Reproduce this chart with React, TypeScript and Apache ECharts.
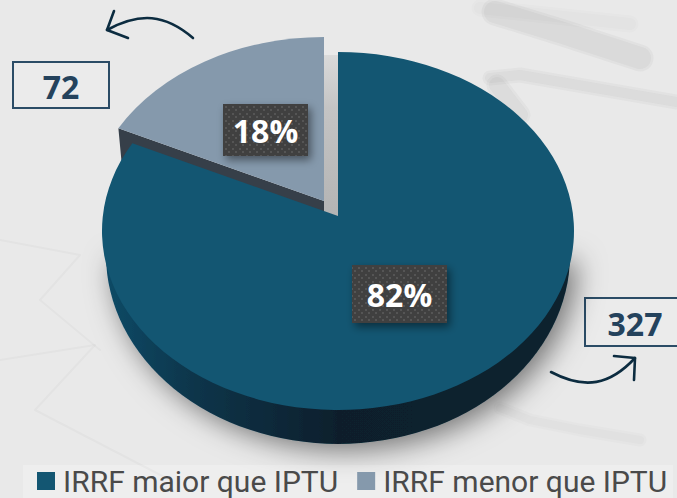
import React, { useEffect, useRef } from "react";
import * as echarts from "echarts";

const categories = ["IRRF maior que IPTU", "IRRF menor que IPTU"];
const counts = [327, 72];
const percentLabels = ["82%", "18%"];
const countLabels = ["327", "72"];

const FONT = "'Open Sans', sans-serif";
const W = 677;
const H = 498;
const apex = { x: 338, y: 216 };
const ell = { cx: 338, cy: 231, rx: 236, ry: 179 };
const low = { cy: 255, rx: 232, ry: 189 };
const explode = { x: -14, y: -15 };

// ellipse point hit by a ray from the apex at a flat-space angle (clockwise from top)
function rim(theta: number) {
  const ax = (apex.x - ell.cx) / ell.rx;
  const ay = (apex.y - ell.cy) / ell.ry;
  const dx = Math.sin(theta);
  const dy = -Math.cos(theta);
  const b = ax * dx + ay * dy;
  const c = ax * ax + ay * ay - 1;
  const t = -b + Math.sqrt(b * b - c);
  return { x: ell.cx + (ax + t * dx) * ell.rx, y: ell.cy + (ay + t * dy) * ell.ry };
}

// keeps page coordinates: the two leading moves make the path's box the whole page
function pagePath(d: string, style: any) {
  return {
    type: "path",
    shape: { pathData: `M0 0 M${W} ${H} ${d}`, layout: "cover", x: 0, y: 0, width: W, height: H },
    style,
  };
}

function dotPattern() {
  const c = document.createElement("canvas");
  c.width = 7;
  c.height = 7;
  const g = c.getContext("2d")!;
  g.fillStyle = "#3f3f3f";
  g.fillRect(0, 0, 7, 7);
  g.fillStyle = "#555555";
  g.fillRect(1, 1, 2, 2);
  g.fillRect(4, 4, 2, 2);
  return { image: c, repeat: "repeat" };
}

function labelBox(x: number, y: number, w: number, h: number, text: string, pattern: any) {
  return [
    {
      type: "rect",
      shape: { x, y, width: w, height: h },
      style: { fill: pattern, shadowBlur: 8, shadowColor: "rgba(0,0,0,0.45)", shadowOffsetX: 3, shadowOffsetY: 4 },
    },
    {
      type: "text",
      x: x + w / 2,
      y: y + h / 2,
      style: { text, fill: "#fff", font: `700 32px ${FONT}`, align: "center", verticalAlign: "middle" },
    },
  ];
}

export default function App() {
  const ref = useRef<HTMLDivElement>(null);
  useEffect(() => {
    const chart = echarts.init(ref.current!, undefined, { renderer: "svg" });
    const total = counts[0] + counts[1];
    const split = (counts[1] / total) * Math.PI * 2;
    const pattern = dotPattern();
    const edge = rim(-split);

    const mainItem = () => {
      const wallPath = `M${ell.cx - low.rx} ${low.cy} A${low.rx} ${low.ry} 0 0 0 ${ell.cx + low.rx} ${low.cy} Z`;
      const topPath = `M${apex.x} ${apex.y} L${edge.x} ${edge.y} A${ell.rx} ${ell.ry} 0 1 0 ${apex.x} ${ell.cy - ell.ry} Z`;
      return {
        type: "group",
        children: [
          pagePath(wallPath, {
            fill: new echarts.graphic.LinearGradient(106, 0, 570, 0, [
              { offset: 0, color: "#114a66" },
              { offset: 0.2, color: "#0b3449" },
              { offset: 0.5, color: "#071f2c" },
              { offset: 1, color: "#08222f" },
            ], true),
            shadowBlur: 28,
            shadowColor: "rgba(0,0,0,0.5)",
            shadowOffsetX: 7,
            shadowOffsetY: 6,
          }),
          pagePath(topPath, { fill: "#135672" }),
          ...labelBox(352, 265, 95, 58, percentLabels[0], pattern),
        ],
      };
    };

    const minorItem = () => {
      const ox = apex.x + explode.x;
      const oy = apex.y + explode.y;
      const tx = edge.x + explode.x;
      const ty = edge.y + explode.y;
      const topPath = `M${ox} ${oy} L${ox} ${ell.cy - ell.ry + explode.y} A${ell.rx} ${ell.ry} 0 0 0 ${tx} ${ty} Z`;
      const cutPath = `M${tx} ${ty} L${ox} ${oy} L${ox} ${oy + 12} L${tx + 3} ${ty + 32} Z`;
      const backPath = `M${ox} 55 L${apex.x} 55 L${apex.x} ${apex.y + 2} L${ox} ${oy + 12} Z`;
      return {
        type: "group",
        children: [
          pagePath(backPath, {
            fill: new echarts.graphic.LinearGradient(0, 50, 0, 216, [
              { offset: 0, color: "#dcdcdc" },
              { offset: 0.35, color: "#c4c4c4" },
              { offset: 1, color: "#b4b4b4" },
            ], true),
          }),
          pagePath(cutPath, { fill: "#363f49" }),
          pagePath(topPath, { fill: "#8599ac" }),
        ],
      };
    };

    const minorLabel = () => ({
      type: "group",
      children: labelBox(223, 104, 85, 52, percentLabels[1], pattern),
    });

    const faintLine = (points: number[][], opacity = 0.03, width = 2) => ({
      type: "polyline",
      silent: true,
      z: -9,
      shape: { points },
      style: {
        fill: "none",
        stroke: `rgba(70,70,70,${opacity})`,
        lineWidth: width,
        lineCap: "round",
        lineJoin: "round",
      },
    });
    // two stacked widths give a soft, out-of-focus edge
    const softLine = (points: number[][], opacity: number, width: number) => [
      faintLine(points, opacity / 2, width + 5),
      faintLine(points, opacity / 2, width),
    ];

    const arrow = (d: number[][][], head: number[][]) => [
      ...d.map((seg) => ({
        type: "bezierCurve",
        shape: {
          x1: seg[0][0], y1: seg[0][1],
          cpx1: seg[1][0], cpy1: seg[1][1],
          cpx2: seg[2][0], cpy2: seg[2][1],
          x2: seg[3][0], y2: seg[3][1],
        },
        style: { fill: "none", stroke: "#0c2c40", lineWidth: 2.6, lineCap: "round" },
      })),
      {
        type: "polyline",
        shape: { points: head },
        style: { fill: "none", stroke: "#0c2c40", lineWidth: 2.6, lineCap: "round", lineJoin: "round" },
      },
    ];

    const box = (x: number, y: number, w: number, h: number, tx: number, text: string) => [
      {
        type: "rect",
        shape: { x, y, width: w, height: h },
        style: { fill: "rgba(240,240,240,0.35)", stroke: "#2b4c66", lineWidth: 2 },
      },
      {
        type: "text",
        x: tx,
        y: y + h / 2 + 1,
        style: { text, fill: "#24425c", font: `700 32px ${FONT}`, align: "center", verticalAlign: "middle" },
      },
    ];

    chart.setOption({
      animation: false,
      backgroundColor: "#e9e9e9",
      legend: {
        data: categories,
        left: 32,
        top: 466,
        padding: [0, 5],
        icon: "rect",
        itemWidth: 18,
        itemHeight: 18,
        itemGap: 19,
        selectedMode: false,
        textStyle: { fontFamily: "Roboto, sans-serif", fontSize: 30, color: "#4a4a4a", padding: [0, 0, 0, 3] },
      },
      graphic: {
        elements: [
          { type: "rect", z: -10, shape: { x: 23, y: 465, width: 650, height: 33 }, style: { fill: "rgba(255,255,255,0.22)" } },
          ...softLine([[495, 12], [560, 32], [640, 58]], 0.09, 22),
          ...softLine([[480, 8], [630, 24]], 0.03, 12),
          ...softLine([[490, 78], [520, 75], [677, 102]], 0.07, 10),
          ...softLine([[497, 85], [520, 115]], 0.07, 16),
          faintLine([[0, 240], [80, 255], [40, 300], [100, 350]]),
          faintLine([[0, 360], [95, 345], [35, 410], [170, 480]]),
          ...softLine([[500, 408], [530, 420], [580, 430], [640, 440]], 0.05, 8),
          ...arrow(
            [[[193, 38], [165, 14], [140, 12], [107, 30]]],
            [[114, 11], [107, 30], [128, 38]],
          ),
          ...arrow(
            [[[551, 372], [585, 390], [610, 385], [635, 358]]],
            [[614, 356], [635, 358], [634, 380]],
          ),
          ...box(13, 62, 96, 46, 61, countLabels[1]),
          ...box(585, 298, 96, 48, 635, countLabels[0]),
        ],
      },
      series: [
        {
          type: "custom",
          name: categories[1],
          coordinateSystem: "none",
          data: [counts[1]],
          itemStyle: { color: "#8599ac" },
          z: 2,
          silent: true,
          renderItem: minorItem,
        },
        {
          type: "custom",
          name: categories[0],
          coordinateSystem: "none",
          data: [counts[0]],
          itemStyle: { color: "#135672" },
          z: 3,
          silent: true,
          renderItem: mainItem,
        },
        {
          type: "custom",
          name: "label",
          coordinateSystem: "none",
          data: [counts[1]],
          z: 4,
          silent: true,
          renderItem: minorLabel,
        },
      ],
    });
    return () => chart.dispose();
  }, []);
  return <div ref={ref} style={{ width: W, height: H, position: "fixed", left: 0, top: 0 }} />;
}
